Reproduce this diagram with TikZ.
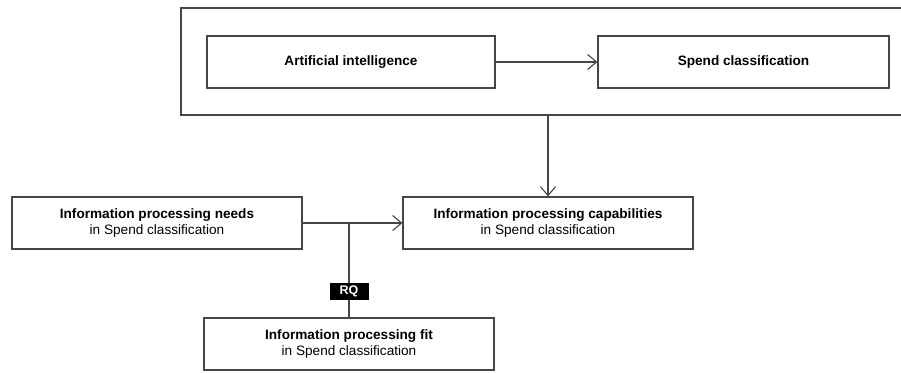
\documentclass[tikz,border=0pt]{standalone}
\usepackage{fontspec}
\setmainfont{Liberation Sans}
\usepackage{tikz}
\usetikzlibrary{arrows.meta,positioning,calc}
\definecolor{linegray}{RGB}{70,70,70}
\tikzset{
  block/.style={draw=linegray,line width=1.1pt,minimum height=52pt,minimum width=290pt,inner sep=0pt,align=center,font=\fontsize{13.6}{16}\selectfont},
  frame/.style={draw=linegray,line width=1.1pt,inner sep=0pt},
  arrow/.style={-{Straight Barb[length=9pt,width=15pt,line width=1.1pt]},draw=linegray,line width=1.1pt},
  link/.style={draw=linegray,line width=1.1pt},
  tag/.style={fill=black,text=white,font=\fontsize{12.5}{13}\selectfont\bfseries,minimum width=39pt,minimum height=17pt,inner sep=0pt}
}
\begin{document}
\begin{tikzpicture}[x=1pt,y=-1pt]
\useasboundingbox (0,0) rectangle (901,372);
% top group
\node[frame,minimum width=724pt,minimum height=107pt] (grp) at (543,61.5) {};
\node[block,minimum width=288pt] (ai) at (351,62) {\textbf{Artificial intelligence}};
\node[block,minimum width=291pt] (spend) at (743.5,62) {\textbf{Spend classification}};
\draw[arrow] (ai)--(spend);
% information processing
\node[block] (needs) at (157,223) {\textbf{Information processing needs}\\in Spend classification};
\node[block] (cap) at (548,223) {\textbf{Information processing capabilities}\\in Spend classification};
\node[block] (fit) at (349,344) {\textbf{Information processing fit}\\in Spend classification};
\draw[arrow] (cap.north |- grp.south)--(cap.north);
\draw[arrow] (needs)--(cap);
\coordinate (junct) at (fit.north |- needs.east);
\draw[link] (junct)--node[tag,pos=0.72]{RQ}(fit.north);
\end{tikzpicture}
\end{document}
